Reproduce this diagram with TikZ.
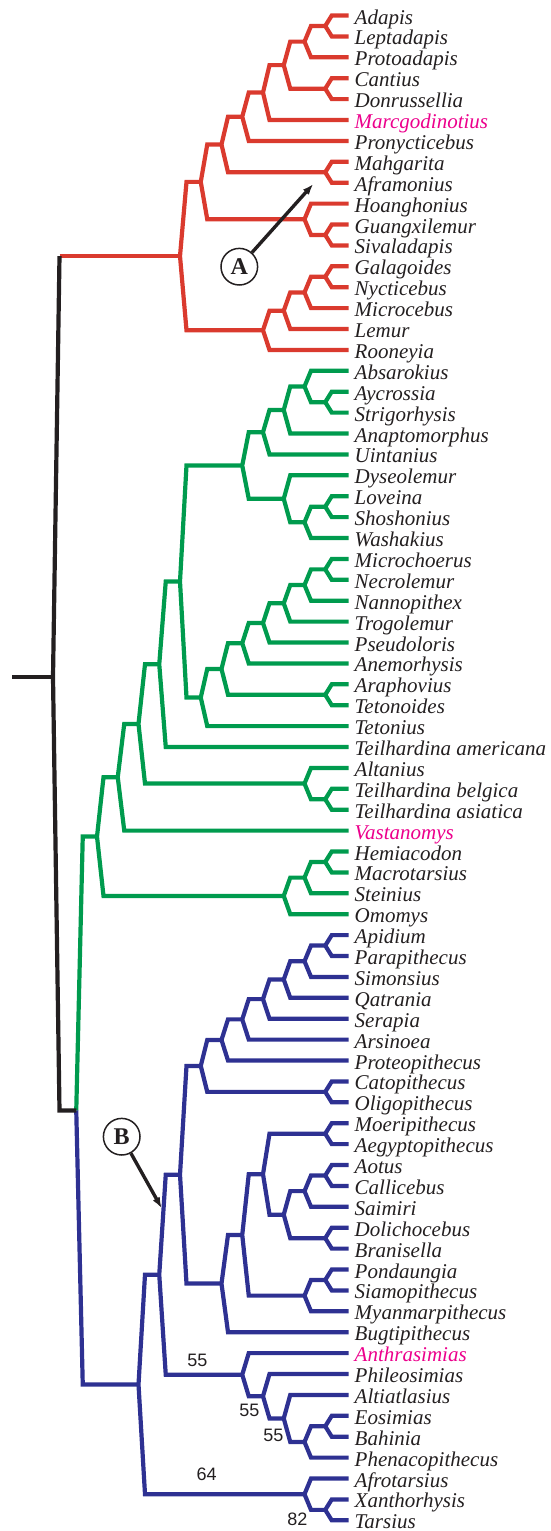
\documentclass[tikz,border=0pt]{standalone}
\usepackage{fontspec}
\setmainfont{Liberation Serif}
\newfontfamily\labfont{Liberation Sans}
\usetikzlibrary{calc,arrows.meta}
\definecolor{cRed}{RGB}{218,58,46}
\definecolor{cGreen}{RGB}{0,155,78}
\definecolor{cBlue}{RGB}{46,49,146}
\definecolor{cBlack}{RGB}{35,31,32}
\definecolor{cMag}{RGB}{236,0,140}
\definecolor{cText}{RGB}{35,31,32}
\newcommand\cl[4]{\draw[#1] (#3) -- ($(#2|-#3)+(6.5,0)$) -- (#2) -- ($(#2|-#4)+(6.5,0)$) -- (#4);}
\tikzset{
  tree/.style={line width=4.2pt, line join=miter, line cap=butt},
  rbr/.style={tree, draw=cRed},
  gbr/.style={tree, draw=cGreen},
  bbr/.style={tree, draw=cBlue},
  kbr/.style={tree, draw=cBlack},
  leaf/.style={anchor=base west, inner sep=0pt, yshift=-8.5pt, font=\fontsize{21}{22}\selectfont\itshape},
  mk/.style={circle, draw=cBlack, line width=1.5pt, minimum size=36.6pt, inner sep=0pt, font=\fontsize{24}{24}\selectfont\bfseries, text=cBlack},
  arw/.style={draw=cBlack, line width=3.4pt, -{Latex[length=11pt,width=8pt]}},
  suplab/.style={inner sep=0pt, text=cText, font=\labfont\fontsize{18}{18}\selectfont}
}
\begin{document}
\begin{tikzpicture}[x=1pt,y=-20.9pt]
\useasboundingbox (0pt,0pt) rectangle (551pt,-1531pt);
\begin{scope}[yshift=-15.5pt]
% leaves
\foreach \i/\n/\c in {0/Adapis/cText,1/Leptadapis/cText,2/Protoadapis/cText,3/Cantius/cText,4/Donrussellia/cText,5/Marcgodinotius/cMag,6/Pronycticebus/cText,7/Mahgarita/cText,8/Aframonius/cText,9/Hoanghonius/cText,10/Guangxilemur/cText,11/Sivaladapis/cText,12/Galagoides/cText,13/Nycticebus/cText,14/Microcebus/cText,15/Lemur/cText,16/Rooneyia/cText,
17/Absarokius/cText,18/Aycrossia/cText,19/Strigorhysis/cText,20/Anaptomorphus/cText,21/Uintanius/cText,22/Dyseolemur/cText,23/Loveina/cText,24/Shoshonius/cText,25/Washakius/cText,26/Microchoerus/cText,27/Necrolemur/cText,28/Nannopithex/cText,29/Trogolemur/cText,30/Pseudoloris/cText,31/Anemorhysis/cText,32/Araphovius/cText,33/Tetonoides/cText,34/Tetonius/cText,35/Teilhardina americana/cText,36/Altanius/cText,37/Teilhardina belgica/cText,38/Teilhardina asiatica/cText,39/Vastanomys/cMag,40/Hemiacodon/cText,41/Macrotarsius/cText,42/Steinius/cText,43/Omomys/cText,
44/Apidium/cText,45/Parapithecus/cText,46/Simonsius/cText,47/Qatrania/cText,48/Serapia/cText,49/Arsinoea/cText,50/Proteopithecus/cText,51/Catopithecus/cText,52/Oligopithecus/cText,53/Moeripithecus/cText,54/Aegyptopithecus/cText,55/Aotus/cText,56/Callicebus/cText,57/Saimiri/cText,58/Dolichocebus/cText,59/Branisella/cText,60/Pondaungia/cText,61/Siamopithecus/cText,62/Myanmarpithecus/cText,63/Bugtipithecus/cText,64/Anthrasimias/cMag,65/Phileosimias/cText,66/Altiatlasius/cText,67/Eosimias/cText,68/Bahinia/cText,69/Phenacopithecus/cText,70/Afrotarsius/cText,71/Xanthorhysis/cText,72/Tarsius/cText}
{
  \coordinate (l\i) at (348.5,\i);
  \node[leaf, text=\c] (t\i) at (354.5,\i) {\n};
}
% red nodes
\coordinate (a1) at (325.25,0.5);
\coordinate (a2) at (304.5,1.25);
\coordinate (a3) at (325.25,3.5);
\coordinate (a4) at (283.75,2.375);
\coordinate (a5) at (263,3.6875);
\coordinate (a6) at (242.25,4.84375);
\coordinate (a7) at (325.25,7.5);
\coordinate (a8) at (221.5,6.171875);
\coordinate (a9) at (325.25,10.5);
\coordinate (a10) at (304.5,9.75);
\coordinate (a11) at (200.75,7.9609);
\coordinate (a12) at (325.25,12.5);
\coordinate (a13) at (304.5,13.25);
\coordinate (a14) at (283.75,14.125);
\coordinate (a15) at (263,15.0625);
\coordinate (a16) at (180,11.5117);
% green nodes
\coordinate (b1) at (325.25,18.5);
\coordinate (b2) at (304.5,17.75);
\coordinate (b3) at (283.75,18.875);
\coordinate (b4) at (263,19.9375);
\coordinate (b5) at (325.25,23.5);
\coordinate (b6) at (304.5,24.25);
\coordinate (b7) at (283.75,23.125);
\coordinate (b8) at (242.25,21.53125);
\coordinate (b9) at (325.25,26.5);
\coordinate (b10) at (304.5,27.25);
\coordinate (b11) at (283.75,28.125);
\coordinate (b12) at (263,29.0625);
\coordinate (b13) at (242.25,30.03125);
\coordinate (b14) at (325.25,32.5);
\coordinate (b15) at (221.5,31.265625);
\coordinate (b16) at (200.75,32.6328);
\coordinate (b17) at (180,27.082);
\coordinate (b18) at (159.25,31.041);
\coordinate (b19) at (325.25,37.5);
\coordinate (b20) at (304.5,36.75);
\coordinate (b21) at (138.5,33.8955);
\coordinate (b22) at (117.75,36.4478);
\coordinate (b23) at (325.25,40.5);
\coordinate (b24) at (304.5,41.25);
\coordinate (b25) at (283.75,42.125);
\coordinate (b26) at (97,39.2864);
% blue nodes
\coordinate (c1) at (325.25,44.5);
\coordinate (c2) at (304.5,45.25);
\coordinate (c3) at (283.75,46.125);
\coordinate (c4) at (263,47.0625);
\coordinate (c5) at (242.25,48.03125);
\coordinate (c6) at (221.5,49.015625);
\coordinate (c7) at (325.25,51.5);
\coordinate (c8) at (200.75,50.2578);
\coordinate (c9) at (325.25,53.5);
\coordinate (c10) at (325.25,55.5);
\coordinate (c11) at (304.5,56.25);
\coordinate (c12) at (325.25,58.5);
\coordinate (c13) at (283.75,57.375);
\coordinate (c14) at (263,55.4375);
\coordinate (c15) at (325.25,60.5);
\coordinate (c16) at (304.5,61.25);
\coordinate (c17) at (242.25,58.34375);
\coordinate (c18) at (221.5,60.671875);
\coordinate (c19) at (180,55.4648);
\coordinate (c20) at (325.25,67.5);
\coordinate (c21) at (304.5,68.25);
\coordinate (c22) at (283.75,67.125);
\coordinate (c23) at (263,66.0625);
\coordinate (c24) at (242.25,65.03125);
\coordinate (c25) at (159.25,60.248);
\coordinate (c26) at (325.25,71.5);
\coordinate (c27) at (304.5,70.75);
\coordinate (c28) at (138.5,65.499);
% basal nodes
\coordinate (gb) at (76.25,52.3927);
\coordinate (root) at (53,31.65);
\coordinate (stub) at (12,31.65);
\coordinate (rs) at ($(root|-a16)+(6.5,0)$);
% red clade
\cl{rbr}{a1}{l0}{l1}
\cl{rbr}{a2}{a1}{l2}
\cl{rbr}{a3}{l3}{l4}
\cl{rbr}{a4}{a2}{a3}
\cl{rbr}{a5}{a4}{l5}
\cl{rbr}{a6}{a5}{l6}
\cl{rbr}{a7}{l7}{l8}
\cl{rbr}{a8}{a6}{a7}
\cl{rbr}{a9}{l10}{l11}
\cl{rbr}{a10}{l9}{a9}
\cl{rbr}{a11}{a8}{a10}
\cl{rbr}{a12}{l12}{l13}
\cl{rbr}{a13}{a12}{l14}
\cl{rbr}{a14}{a13}{l15}
\cl{rbr}{a15}{a14}{l16}
\cl{rbr}{a16}{a11}{a15}
% green clade
\cl{gbr}{b1}{l18}{l19}
\cl{gbr}{b2}{l17}{b1}
\cl{gbr}{b3}{b2}{l20}
\cl{gbr}{b4}{b3}{l21}
\cl{gbr}{b5}{l23}{l24}
\cl{gbr}{b6}{b5}{l25}
\cl{gbr}{b7}{l22}{b6}
\cl{gbr}{b8}{b4}{b7}
\cl{gbr}{b9}{l26}{l27}
\cl{gbr}{b10}{b9}{l28}
\cl{gbr}{b11}{b10}{l29}
\cl{gbr}{b12}{b11}{l30}
\cl{gbr}{b13}{b12}{l31}
\cl{gbr}{b14}{l32}{l33}
\cl{gbr}{b15}{b13}{b14}
\cl{gbr}{b16}{b15}{l34}
\cl{gbr}{b17}{b8}{b16}
\cl{gbr}{b18}{b17}{l35}
\cl{gbr}{b19}{l37}{l38}
\cl{gbr}{b20}{l36}{b19}
\cl{gbr}{b21}{b18}{b20}
\cl{gbr}{b22}{b21}{l39}
\cl{gbr}{b23}{l40}{l41}
\cl{gbr}{b24}{b23}{l42}
\cl{gbr}{b25}{b24}{l43}
\cl{gbr}{b26}{b22}{b25}
% blue clade
\cl{bbr}{c1}{l44}{l45}
\cl{bbr}{c2}{c1}{l46}
\cl{bbr}{c3}{c2}{l47}
\cl{bbr}{c4}{c3}{l48}
\cl{bbr}{c5}{c4}{l49}
\cl{bbr}{c6}{c5}{l50}
\cl{bbr}{c7}{l51}{l52}
\cl{bbr}{c8}{c6}{c7}
\cl{bbr}{c9}{l53}{l54}
\cl{bbr}{c10}{l55}{l56}
\cl{bbr}{c11}{c10}{l57}
\cl{bbr}{c12}{l58}{l59}
\cl{bbr}{c13}{c11}{c12}
\cl{bbr}{c14}{c9}{c13}
\cl{bbr}{c15}{l60}{l61}
\cl{bbr}{c16}{c15}{l62}
\cl{bbr}{c17}{c14}{c16}
\cl{bbr}{c18}{c17}{l63}
\cl{bbr}{c19}{c8}{c18}
\cl{bbr}{c20}{l67}{l68}
\cl{bbr}{c21}{c20}{l69}
\cl{bbr}{c22}{l66}{c21}
\cl{bbr}{c23}{l65}{c22}
\cl{bbr}{c24}{l64}{c23}
\cl{bbr}{c25}{c19}{c24}
\cl{bbr}{c26}{l71}{l72}
\cl{bbr}{c27}{l70}{c26}
\cl{bbr}{c28}{c25}{c27}
% basal
\draw[rbr] (rs) -- (a16);
\draw[gbr] (gb) -- ($(gb|-b26)+(6.5,0)$) -- (b26);
\draw[bbr] (gb) -- ($(gb|-c28)+(6.5,0)$) -- (c28);
\draw[kbr] (rs) -- (root) -- ($(root|-gb)+(6.5,0)$) -- (gb);
\draw[kbr] (stub) -- (root);
% markers
\node[mk] (mA) at (239.3,12.019) {A};
\coordinate (tipA) at (313.3,8.062);
\draw[arw] (mA) -- (tipA);
\node[mk] (mB) at (121.7,53.646) {B};
\coordinate (tipB) at (161.7,57.07);
\draw[arw] (mB) -- (tipB);
% support values
\node[suplab] (s1) at (197.3,64.33) {55};
\node[suplab] (s2) at (249.3,66.72) {55};
\node[suplab] (s3) at (273.3,67.95) {55};
\node[suplab] (s4) at (206.7,69.78) {64};
\node[suplab] (s5) at (297.3,71.94) {82};
\end{scope}
\end{tikzpicture}
\end{document}
